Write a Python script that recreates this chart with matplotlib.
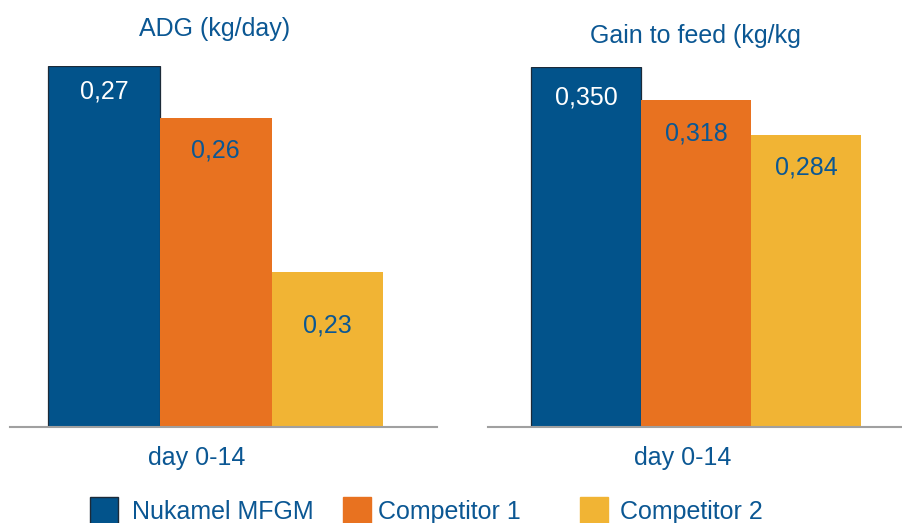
import matplotlib.pyplot as plt
from matplotlib.patches import Rectangle

# data
series = ['Nukamel MFGM', 'Competitor 1', 'Competitor 2']
adg = [0.27, 0.26, 0.23]
adg_labels = ['0,27', '0,26', '0,23']
g2f = [0.350, 0.318, 0.284]
g2f_labels = ['0,350', '0,318', '0,284']
period = 'day 0-14'

colors = ['#02538b', '#e87220', '#f1b434']
text_blue = '#0b5793'
label_colors = ['white', text_blue, text_blue]

plt.rcParams['font.family'] = ['Liberation Sans', 'DejaVu Sans']

W, H = 902, 523
fig = plt.figure(figsize=(W / 100, H / 100), dpi=100)


def px_axes(x0, x1, ytop, ybot):
    return fig.add_axes([x0 / W, 1 - ybot / H, (x1 - x0) / W, (ybot - ytop) / H])


def draw_panel(ax, vals, labels, ylim, xlim, offsets, title, title_xy, xlab_x):
    for i, v in enumerate(vals):
        ec = '#1c2a38' if i == 0 else colors[i]
        ax.bar(i, v - ylim[0], bottom=ylim[0], width=1.0, color=colors[i],
               edgecolor=ec, linewidth=0.9 if i == 0 else 0)
        ax.annotate(labels[i], (i, v), xytext=(0, -offsets[i]), textcoords='offset pixels',
                    ha='center', va='center', fontsize=18, color=label_colors[i])
    ax.set_xlim(*xlim)
    ax.set_ylim(*ylim)
    ax.axis('off')
    ax.axhline(ylim[0], color='#a0a0a0', lw=1.5, xmin=0, xmax=1, clip_on=False)
    fig.text(title_xy[0] / W, 1 - title_xy[1] / H, title, ha='center', va='center',
             fontsize=18, color=text_blue)
    fig.text(xlab_x / W, 1 - 458 / H, period, ha='center', va='center',
             fontsize=18, color=text_blue)


ax1 = px_axes(10, 437, 66, 427)
draw_panel(ax1, adg, adg_labels, (0.20, 0.27), (-0.84, 2.98), [26, 33, 53],
           'ADG (kg/day)', (215, 29), 197)

ax2 = px_axes(488, 902, 67, 427)
draw_panel(ax2, g2f, g2f_labels, (0.0, 0.35), (-0.89, 2.87), [31, 34, 33],
           'Gain to feed (kg/kg', (695, 36), 683)

# legend drawn by hand to match spacing
leg_sq = [90, 343, 580]
leg_tx = [132, 378, 620]
for i, name in enumerate(series):
    ec = '#1c2a38' if i == 0 else colors[i]
    fig.patches.append(Rectangle((leg_sq[i] / W, 1 - 525 / H), 28 / W, 28 / H,
                                 transform=fig.transFigure, facecolor=colors[i],
                                 edgecolor=ec, linewidth=1.0))
    fig.text(leg_tx[i] / W, 1 - 512 / H, name, ha='left', va='center',
             fontsize=18, color=text_blue)

fig.savefig('out.png', dpi=100)
